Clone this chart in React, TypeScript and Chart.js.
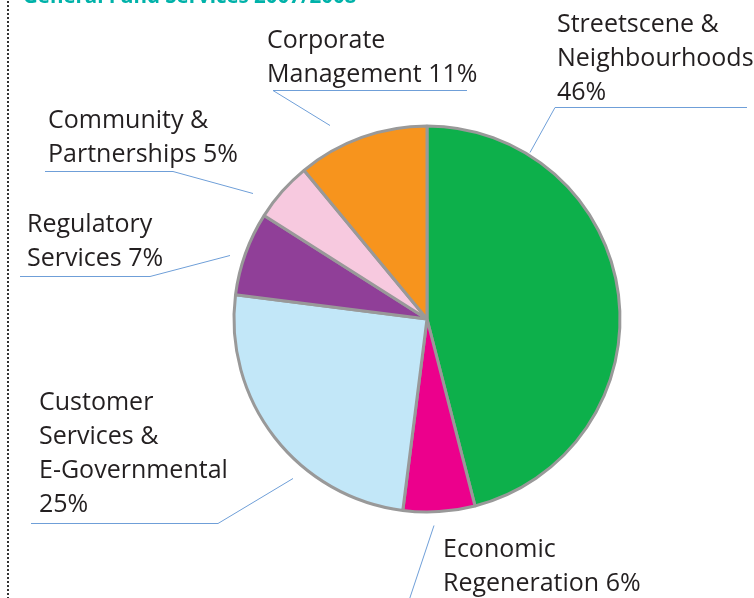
import React, { useEffect, useRef } from "react";
import { Chart, registerables } from "chart.js";

Chart.register(...registerables);

const categories = [
  "Streetscene & Neighbourhoods",
  "Economic Regeneration",
  "Customer Services & E-Governmental",
  "Regulatory Services",
  "Community & Partnerships",
  "Corporate Management",
];
const values = [46, 6, 25, 7, 5, 11];
const colors = ["#0db04b", "#ec008c", "#c2e7f8", "#903f98", "#f7c9df", "#f7941d"];
const labelLines = [
  ["Streetscene &", "Neighbourhoods", "46%"],
  ["Economic", "Regeneration 6%"],
  ["Customer", "Services &", "E-Governmental", "25%"],
  ["Regulatory", "Services 7%"],
  ["Community &", "Partnerships 5%"],
  ["Corporate", "Management 11%"],
];
const title = "General Fund Services 2007/2008";

// layout (positions of annotation text and leader lines)
const labelLayout = [
  { x: 557, y: 32, lh: 34, leader: [[747, 107], [555, 107], [530, 152]] },
  { x: 443, y: 557, lh: 34, leader: [[434, 525], [409, 600]] },
  { x: 39, y: 410, lh: 34, leader: [[31, 523], [218, 523], [293, 478]] },
  { x: 27, y: 232, lh: 34, leader: [[20, 276], [150, 276], [230, 255]] },
  { x: 48, y: 128, lh: 34, leader: [[45, 171], [173, 171], [253, 193]] },
  { x: 267, y: 48, lh: 34, leader: [[467, 90], [273, 90], [330, 125]] },
];

const FONT = '"Open Sans", "Noto Sans", sans-serif';

const annotationPlugin = {
  id: "annotations",
  afterDraw(chart: any) {
    const ctx = chart.ctx;
    ctx.save();
    // dotted left border
    ctx.fillStyle = "#333333";
    for (let y = 1; y < 598; y += 4) {
      ctx.fillRect(7, y, 2, 2);
    }
    // title (cut at top)
    ctx.fillStyle = "#00b2a9";
    ctx.font = `bold 20.5px ${FONT}`;
    ctx.textBaseline = "alphabetic";
    ctx.fillText(title, 23, 3);
    // leader lines
    ctx.strokeStyle = "#6f9fd8";
    ctx.lineWidth = 1;
    labelLayout.forEach((l) => {
      ctx.beginPath();
      l.leader.forEach((p, i) => {
        if (i === 0) ctx.moveTo(p[0], p[1] + 0.5);
        else ctx.lineTo(p[0], p[1] + 0.5);
      });
      ctx.stroke();
    });
    // labels
    ctx.fillStyle = "#231f20";
    ctx.font = `25px ${FONT}`;
    labelLines.forEach((lines, i) => {
      const l = labelLayout[i];
      lines.forEach((t, j) => {
        ctx.fillText(t, l.x, l.y + j * l.lh);
      });
    });
    ctx.restore();
  },
};

export default function App() {
  const ref = useRef<HTMLCanvasElement>(null);
  useEffect(() => {
    if (!ref.current) return;
    const chart = new Chart(ref.current, {
      type: "pie",
      data: {
        labels: categories,
        datasets: [
          {
            data: values,
            backgroundColor: colors,
            borderColor: "#999999",
            borderWidth: 3,
          },
        ],
      },
      options: {
        responsive: false,
        animation: false,
        radius: 193,
        layout: { padding: { left: 100, right: 0, top: 40, bottom: 0 } },
        plugins: {
          legend: { display: false },
          tooltip: { enabled: false },
        },
      },
      plugins: [annotationPlugin],
    });
    return () => chart.destroy();
  }, []);
  return (
    <div style={{ position: "fixed", left: 0, top: 0, width: 754, height: 598, background: "#ffffff" }}>
      <canvas ref={ref} width={754} height={598} style={{ width: 754, height: 598 }} />
    </div>
  );
}
